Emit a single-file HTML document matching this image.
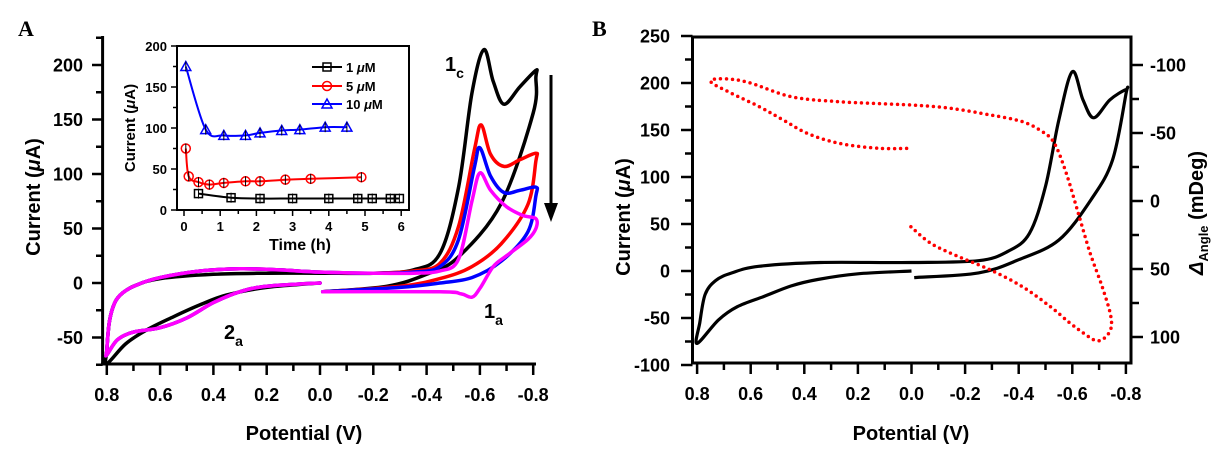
<!DOCTYPE html>
<html><head><meta charset="utf-8"><style>
body{margin:0;background:#fff;}
svg{display:block;font-family:"Liberation Sans",Arial,sans-serif;font-weight:bold;}
</style></head><body>
<svg id="s" width="1225" height="450" viewBox="0 0 1225 450" xmlns="http://www.w3.org/2000/svg">
<rect width="1225" height="450" fill="#fff"/>
<g id="g"></g>
</svg>
<script>
var NS="http://www.w3.org/2000/svg",G=document.getElementById('g');
function el(t,a,txt){var e=document.createElementNS(NS,t);for(var k in a)e.setAttribute(k,a[k]);if(txt!=null)e.textContent=txt;G.appendChild(e);return e;}
function cr(pts){var d="M"+pts[0][0].toFixed(1)+","+pts[0][1].toFixed(1);
for(var i=0;i<pts.length-1;i++){var p0=pts[i-1]||pts[i],p1=pts[i],p2=pts[i+1],p3=pts[i+2]||p2;
var c1=[p1[0]+(p2[0]-p0[0])/6,p1[1]+(p2[1]-p0[1])/6],c2=[p2[0]-(p3[0]-p1[0])/6,p2[1]-(p3[1]-p1[1])/6];
d+=" C"+c1[0].toFixed(1)+","+c1[1].toFixed(1)+" "+c2[0].toFixed(1)+","+c2[1].toFixed(1)+" "+p2[0].toFixed(1)+","+p2[1].toFixed(1);}return d;}
function line(x1,y1,x2,y2,w){el('line',{x1:x1,y1:y1,x2:x2,y2:y2,stroke:'#000','stroke-width':w||2.5});}
function text(x,y,s,sz,anc,extra){var a={x:x,y:y,'font-size':sz,'text-anchor':anc||'middle'};for(var k in extra)a[k]=extra[k];return el('text',a,s);}

/* ---------- Panel A ---------- */
var AX=function(P){return 320-266.5*P}, AY=function(I){return 283-1.09*I};
el('text',{x:18,y:36,'font-size':22,'font-family':'Liberation Serif',"font-weight":"bold"},"A");
line(102.6,36,102.6,365,3);line(101,364,536,364,3);
for(var v=-75;v<=225;v+=25){var y=AY(v);line(102.6,y,v%50==0?92:96,y,2.5);if(v%50==0&&v<225)text(83,y+6.5,String(v),18,'end');}
for(var i=0;i<=16;i++){var P=0.8-i*0.1,x=AX(P);line(x,364,x,i%2==0?375:371,2.5);if(i%2==0){var s=Math.abs(P)<1e-6?"0.0":P.toFixed(1);text(x,401,s,18);}}
text(304,440,"Potential (V)",20);
var t=text(40,197,"",20,'middle',{transform:'rotate(-90 40 197)'});t.innerHTML='Current (<tspan font-style="italic">μ</tspan>A)';
function Acurve(data,col){el('path',{d:cr(data.map(function(p){return[AX(p[0]),AY(p[1])]})),fill:'none',stroke:col,'stroke-width':3.5,'stroke-linejoin':'round','stroke-linecap':'round'});}
var left=[[0,0],[0.2,-3],[0.3,-8],[0.4,-18],[0.5,-32],[0.6,-41],[0.7,-45],[0.76,-52],[0.8,-66],[0.8,-62],[0.79,-35],[0.77,-18],[0.74,-9],[0.69,-2],[0.6,5],[0.45,11],[0.3,13],[0.15,12],[0,10]];
Acurve([[0,0],[0.2,-4],[0.35,-11],[0.45,-20],[0.55,-31],[0.65,-43],[0.73,-56],[0.8,-74],[0.8,-62],[0.79,-35],[0.77,-18],[0.74,-9],[0.69,-2],[0.6,4],[0.4,8],[0.2,9],[0,9],[-0.2,9],[-0.35,12],[-0.45,27],[-0.52,88],[-0.57,174],[-0.615,214],[-0.65,185],[-0.69,164],[-0.75,180],[-0.81,195],[-0.81,189],[-0.8,156],[-0.68,73],[-0.52,24],[-0.4,8],[-0.25,-3],[-0.01,-8]],'#000');
Acurve(left.concat([[-0.2,9],[-0.35,11],[-0.45,18],[-0.52,52],[-0.58,123],[-0.605,145],[-0.64,118],[-0.69,107],[-0.75,113],[-0.81,119],[-0.81,112],[-0.78,72],[-0.68,36],[-0.57,15],[-0.45,4],[-0.3,-3],[-0.01,-8]]),'#f00');
Acurve(left.concat([[-0.2,9],[-0.35,10],[-0.45,15],[-0.52,40],[-0.58,107],[-0.6,124],[-0.64,98],[-0.69,83],[-0.75,85],[-0.81,88],[-0.81,80],[-0.78,47],[-0.68,20],[-0.57,5],[-0.45,0],[-0.3,-4],[-0.01,-8]]),'#00f');
Acurve(left.concat([[-0.2,9],[-0.35,9],[-0.45,11],[-0.52,22],[-0.57,75],[-0.6,101],[-0.64,85],[-0.7,70],[-0.76,62],[-0.81,59],[-0.81,50],[-0.78,40],[-0.7,25],[-0.65,15],[-0.6,-5],[-0.57,-13],[-0.53,-10],[-0.45,-8],[-0.01,-8]]),'#f0f');
t=text(445,71,"",20,'start');t.innerHTML='1<tspan font-size="14" dy="7">c</tspan>';
t=text(484,318,"",20,'start');t.innerHTML='1<tspan font-size="14" dy="7">a</tspan>';
t=text(224,339,"",20,'start');t.innerHTML='2<tspan font-size="14" dy="7">a</tspan>';
line(551,75,551,205,3);el('polygon',{points:'544,203 558,203 551,222',fill:'#000'});

/* inset */
el('rect',{x:177,y:46,width:232,height:164,fill:'#fff',stroke:'#000','stroke-width':2});
var IX=function(h){return 184+36.2*h},IY=function(c){return 210-0.82*c};
for(var c=0;c<=200;c+=25){var y=IY(c);line(177,y,c%50==0?171:173,y,1.5);if(c%50==0)text(167,y+5,String(c),13,'end');}
for(var h=0;h<=6;h+=0.5){var x=IX(h);line(x,210,x,h%1==0?216:214,1.5);if(h%1==0)text(x,231,String(h),13);}
text(300,250,"Time (h)",16);
t=text(135,128,"",15,'middle',{transform:'rotate(-90 135 128)'});t.innerHTML='Current (<tspan font-style="italic">μ</tspan>A)';
function ser(d,col,mk){var pts=d.map(function(p){return[IX(p[0]),IY(p[1])]});
el('path',{d:cr(pts),fill:'none',stroke:col,'stroke-width':2});
pts.forEach(function(p){mark(p[0],p[1],col,mk);line(p[0],p[1]-5,p[0],p[1]+5,1);});}
function mark(x,y,col,mk){if(mk=='s')el('rect',{x:x-4,y:y-4,width:8,height:8,fill:'none',stroke:col,'stroke-width':1.5});
else if(mk=='c')el('circle',{cx:x,cy:y,r:4.5,fill:'none',stroke:col,'stroke-width':1.5});
else el('polygon',{points:(x-5)+','+(y+4)+' '+(x+5)+','+(y+4)+' '+x+','+(y-5),fill:'none',stroke:col,'stroke-width':1.5});}
ser([[0.05,175],[0.6,98],[1.1,91],[1.7,91],[2.1,94],[2.7,97],[3.2,98],[3.9,101],[4.5,101]],'#00f','t');
ser([[0.05,75],[0.13,41],[0.4,34],[0.7,31],[1.1,33],[1.7,35],[2.1,35],[2.8,37],[3.5,38],[4.9,40]],'#f00','c');
ser([[0.4,20],[1.3,15],[2.1,14],[3,14],[4,14],[4.8,14],[5.2,14],[5.7,14],[5.95,14]],'#000','s');
[['#000','s','1 ',67],['#f00','c','5 ',86],['#00f','t','10 ',104]].forEach(function(L){el('line',{x1:312,y1:L[3],x2:342,y2:L[3],stroke:L[0],'stroke-width':2});mark(327,L[3],L[0],L[1]);
var tt=text(346,L[3]+5,"",13,'start');tt.innerHTML=L[2]+'<tspan font-style="italic">μ</tspan>M';});

/* ---------- Panel B ---------- */
el('text',{x:592,y:36,'font-size':22,'font-family':'Liberation Serif',"font-weight":"bold"},"B");
el('rect',{x:692.5,y:37,width:438.5,height:326,fill:'none',stroke:'#000','stroke-width':3});
var BX=function(P){return 911.5-268*P},BY=function(I){return 271-0.94*I};
for(var v=-100;v<=250;v+=25){var y=BY(v);line(692.5,y,v%50==0?681:685,y,2.5);if(v%50==0)text(670,y+6.5,String(v),18,'end');}
for(var i=0;i<=16;i++){var P=0.8-i*0.1,x=BX(P);line(x,363,x,i%2==0?374:370,2.5);if(i%2==0){var s=Math.abs(P)<1e-6?"0.0":P.toFixed(1);text(x,400,s,18);}}
for(var a=-125;a<=125;a+=25){var y=201+1.36*a;if(y<38||y>362)continue;line(1131,y,a%50==0?1143:1139,y,2.5);if(a%50==0)text(1150,y+6.5,String(a),18,'start');}
text(911,440,"Potential (V)",20);
t=text(630,217,"",20,'middle',{transform:'rotate(-90 630 217)'});t.innerHTML='Current (<tspan font-style="italic">μ</tspan>A)';
t=text(1203,213,"",20,'middle',{transform:'rotate(-90 1203 213)'});t.innerHTML='<tspan font-style="italic">Δ</tspan><tspan font-size="13" dy="5">Angle</tspan><tspan dy="-5"> (mDeg)</tspan>';
var bd=[[0,0],[0.2,-3],[0.35,-9],[0.45,-16],[0.55,-27],[0.65,-38],[0.72,-52],[0.8,-77],[0.79,-55],[0.77,-25],[0.73,-10],[0.67,-2],[0.57,5],[0.34,9],[0,9],[-0.25,11],[-0.36,21],[-0.44,40],[-0.5,90],[-0.55,161],[-0.6,212],[-0.64,182],[-0.68,163],[-0.74,182],[-0.8,193],[-0.8,188],[-0.75,118],[-0.67,76],[-0.55,33],[-0.4,12],[-0.25,-2],[-0.01,-7]];
el('path',{d:cr(bd.map(function(p){return[BX(p[0]),BY(p[1])]})),fill:'none',stroke:'#000','stroke-width':3.2,'stroke-linejoin':'round'});
var rp=[[910.9,226.7],[930.8,243.3],[958.7,256.7],[990.6,270],[1022.5,286.7],[1050.4,306.7],[1070.3,323.3],[1086.2,335],[1096.2,340.7],[1104.2,338.3],[1111,328.3],[1110.2,313.3],[1102.2,286.7],[1090.2,253.3],[1078.3,213.3],[1066.3,173.3],[1054.4,143.3],[1042.4,131.7],[1022.5,121.7],[990.6,115],[950.7,108.3],[910.9,105],[839.1,101.7],[791.3,96.7],[751.5,83.3],[731.5,79.3],[713.6,79.3],[712.4,83.3],[731.5,93.3],[759.4,106.7],[783.3,120],[807.2,133.3],[839.1,143.3],[879,148.3],[910.9,148.3]];
el('path',{d:cr(rp),fill:'none',stroke:'#f00','stroke-width':3.5,'stroke-dasharray':'0 6','stroke-linecap':'round'});
</script>
</body></html>
